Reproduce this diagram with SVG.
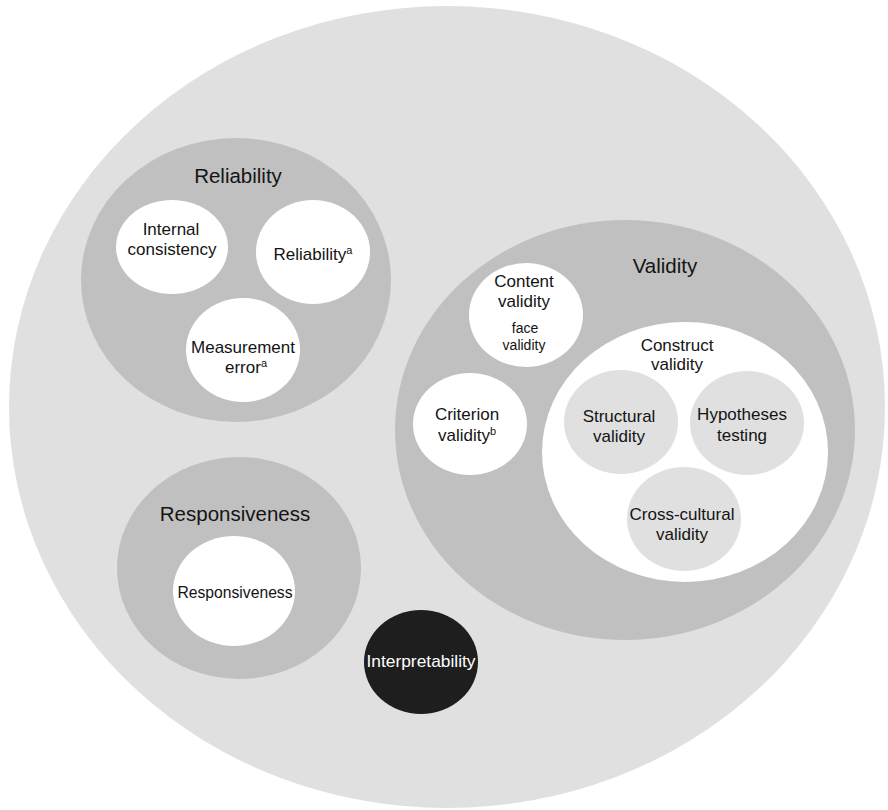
<svg xmlns="http://www.w3.org/2000/svg" width="888" height="810" viewBox="0 0 888 810">
<style>
text{font-family:"Liberation Sans",Arial,sans-serif;fill:#141414;text-anchor:middle}
.hd{font-size:20.5px}
.in{font-size:17px}
.sm{font-size:14px}
.sup{font-size:11px}
.outer{fill:#e0e0e0}
.mid{fill:#c0c0c0}
.wh{fill:#ffffff}
.lt{fill:#e0e0e0}
.dk{fill:#1e1e1e}
</style>
<rect x="0" y="0" width="888" height="810" fill="#ffffff"/>
<g id="outer"><ellipse class="outer" cx="447" cy="407" rx="438" ry="401"/></g>

<g id="reliability">
<ellipse class="mid" cx="236" cy="280" rx="155" ry="142"/>
<text class="hd" x="238" y="183">Reliability</text>
</g>
<g id="internal-consistency">
<ellipse class="wh" cx="172" cy="247" rx="56" ry="47"/>
<text class="in" x="171" y="235">Internal</text>
<text class="in" x="172" y="255">consistency</text>
</g>
<g id="reliability-a">
<ellipse class="wh" cx="313" cy="252" rx="57" ry="52"/>
<text class="in" x="313" y="260">Reliability<tspan class="sup" dy="-6">a</tspan></text>
</g>
<g id="measurement-error">
<ellipse class="wh" cx="243" cy="350" rx="57" ry="52"/>
<text class="in" x="243" y="353">Measurement</text>
<text class="in" x="246" y="373">error<tspan class="sup" dy="-6">a</tspan></text>
</g>

<g id="validity">
<ellipse class="mid" cx="625" cy="430" rx="230" ry="210"/>
<text class="hd" x="665" y="273">Validity</text>
</g>
<g id="content-validity">
<ellipse class="wh" cx="526" cy="315" rx="57" ry="52"/>
<text class="in" x="524" y="287">Content</text>
<text class="in" x="524" y="307">validity</text>
<text class="sm" x="525" y="333">face</text>
<text class="sm" x="524" y="350">validity</text>
</g>
<g id="criterion-validity">
<ellipse class="wh" cx="470" cy="424" rx="57" ry="51"/>
<text class="in" x="467" y="420">Criterion</text>
<text class="in" x="467" y="441">validity<tspan class="sup" dy="-6">b</tspan></text>
</g>
<g id="construct-validity">
<ellipse class="wh" cx="685" cy="452" rx="143" ry="130"/>
<text class="in" x="677" y="351">Construct</text>
<text class="in" x="677" y="370">validity</text>
</g>
<g id="structural-validity">
<ellipse class="lt" cx="621" cy="422" rx="57" ry="52"/>
<text class="in" x="619" y="422">Structural</text>
<text class="in" x="619" y="442">validity</text>
</g>
<g id="hypotheses-testing">
<ellipse class="lt" cx="747" cy="423" rx="57" ry="52"/>
<text class="in" x="742" y="420">Hypotheses</text>
<text class="in" x="742" y="441">testing</text>
</g>
<g id="cross-cultural-validity">
<ellipse class="lt" cx="684" cy="519" rx="57" ry="52"/>
<text class="in" x="682" y="520">Cross-cultural</text>
<text class="in" x="682" y="540">validity</text>
</g>

<g id="responsiveness">
<ellipse class="mid" cx="239" cy="568" rx="122" ry="111"/>
<text class="hd" x="235" y="521">Responsiveness</text>
</g>
<g id="responsiveness-inner">
<ellipse class="wh" cx="234" cy="591" rx="61" ry="55"/>
<text x="235" y="598" style="font-size:15.7px">Responsiveness</text>
</g>

<g id="interpretability">
<ellipse class="dk" cx="421" cy="662" rx="57" ry="52"/>
<text x="421" y="667" style="font-size:17px;fill:#ffffff" textLength="109" lengthAdjust="spacingAndGlyphs">Interpretability</text>
</g>
<g id="connectors"></g>
</svg>
